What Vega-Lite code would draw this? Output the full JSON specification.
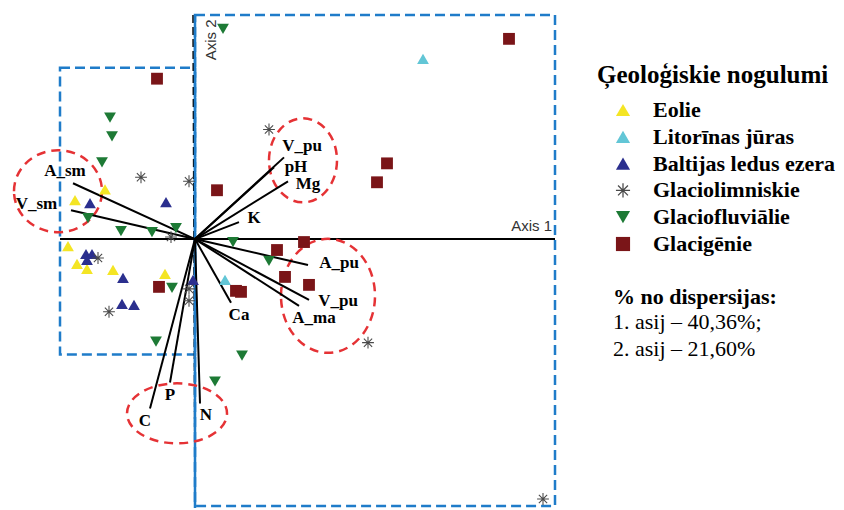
{
  "$schema": "https://vega.github.io/schema/vega-lite/v6.json",
  "width": 844,
  "height": 510,
  "autosize": {"type": "fit", "contains": "padding"},
  "padding": 0,
  "background": "white",
  "config": {"view": {"stroke": null}},
  "datasets": {
    "samples": [
      {"grupa": "Eolie", "a1": -0.90, "a2": 0.50},
      {"grupa": "Eolie", "a1": -1.20, "a2": 0.39},
      {"grupa": "Eolie", "a1": -1.27, "a2": -0.07},
      {"grupa": "Eolie", "a1": -1.18, "a2": -0.25},
      {"grupa": "Eolie", "a1": -1.08, "a2": -0.30},
      {"grupa": "Eolie", "a1": -0.82, "a2": -0.31},
      {"grupa": "Eolie", "a1": -0.30, "a2": -0.35},
      {"grupa": "Litorīnas jūras", "a1": 2.28, "a2": 1.81},
      {"grupa": "Litorīnas jūras", "a1": 0.30, "a2": -0.41},
      {"grupa": "Baltijas ledus ezera", "a1": -1.05, "a2": 0.36},
      {"grupa": "Baltijas ledus ezera", "a1": -0.29, "a2": 0.37},
      {"grupa": "Baltijas ledus ezera", "a1": -1.09, "a2": -0.15},
      {"grupa": "Baltijas ledus ezera", "a1": -1.03, "a2": -0.15},
      {"grupa": "Baltijas ledus ezera", "a1": -1.08, "a2": -0.21},
      {"grupa": "Baltijas ledus ezera", "a1": -0.72, "a2": -0.39},
      {"grupa": "Baltijas ledus ezera", "a1": -0.02, "a2": -0.41},
      {"grupa": "Baltijas ledus ezera", "a1": -0.73, "a2": -0.65},
      {"grupa": "Baltijas ledus ezera", "a1": -0.61, "a2": -0.66},
      {"grupa": "Glaciolimniskie", "a1": -0.54, "a2": 0.62},
      {"grupa": "Glaciolimniskie", "a1": -0.06, "a2": 0.58},
      {"grupa": "Glaciolimniskie", "a1": -0.24, "a2": 0.02},
      {"grupa": "Glaciolimniskie", "a1": -0.97, "a2": -0.19},
      {"grupa": "Glaciolimniskie", "a1": -0.06, "a2": -0.50},
      {"grupa": "Glaciolimniskie", "a1": -0.06, "a2": -0.62},
      {"grupa": "Glaciolimniskie", "a1": -0.86, "a2": -0.73},
      {"grupa": "Glaciolimniskie", "a1": 0.74, "a2": 1.10},
      {"grupa": "Glaciolimniskie", "a1": 1.73, "a2": -1.04},
      {"grupa": "Glaciolimniskie", "a1": 3.48, "a2": -2.61},
      {"grupa": "Glaciofluviālie", "a1": 0.28, "a2": 2.11},
      {"grupa": "Glaciofluviālie", "a1": -0.85, "a2": 1.22},
      {"grupa": "Glaciofluviālie", "a1": -0.83, "a2": 1.03},
      {"grupa": "Glaciofluviālie", "a1": -0.93, "a2": 0.77},
      {"grupa": "Glaciofluviālie", "a1": -1.07, "a2": 0.21},
      {"grupa": "Glaciofluviālie", "a1": -0.74, "a2": 0.08},
      {"grupa": "Glaciofluviālie", "a1": -0.43, "a2": 0.07},
      {"grupa": "Glaciofluviālie", "a1": -0.19, "a2": 0.11},
      {"grupa": "Glaciofluviālie", "a1": -0.23, "a2": -0.49},
      {"grupa": "Glaciofluviālie", "a1": -0.39, "a2": -1.03},
      {"grupa": "Glaciofluviālie", "a1": 0.38, "a2": -0.03},
      {"grupa": "Glaciofluviālie", "a1": 0.74, "a2": -0.22},
      {"grupa": "Glaciofluviālie", "a1": 0.47, "a2": -1.17},
      {"grupa": "Glaciofluviālie", "a1": 0.20, "a2": -1.43},
      {"grupa": "Glacigēnie", "a1": -0.38, "a2": 1.61},
      {"grupa": "Glacigēnie", "a1": 0.22, "a2": 0.49},
      {"grupa": "Glacigēnie", "a1": 1.92, "a2": 0.76},
      {"grupa": "Glacigēnie", "a1": 1.82, "a2": 0.57},
      {"grupa": "Glacigēnie", "a1": 3.14, "a2": 2.01},
      {"grupa": "Glacigēnie", "a1": 1.09, "a2": -0.03},
      {"grupa": "Glacigēnie", "a1": 0.82, "a2": -0.11},
      {"grupa": "Glacigēnie", "a1": 0.90, "a2": -0.38},
      {"grupa": "Glacigēnie", "a1": 1.14, "a2": -0.46},
      {"grupa": "Glacigēnie", "a1": 0.41, "a2": -0.52},
      {"grupa": "Glacigēnie", "a1": 0.46, "a2": -0.53},
      {"grupa": "Glacigēnie", "a1": -0.36, "a2": -0.48}
    ],
    "vectors": [
      {"mainigais": "A_sm", "o1": 0, "o2": 0, "a1": -1.22, "a2": 0.56, "l1": -1.30, "l2": 0.68},
      {"mainigais": "V_sm", "o1": 0, "o2": 0, "a1": -1.24, "a2": 0.29, "l1": -1.585, "l2": 0.35},
      {"mainigais": "V_pu", "o1": 0, "o2": 0, "a1": 0.89, "a2": 0.82, "l1": 1.07, "l2": 0.93},
      {"mainigais": "pH", "o1": 0, "o2": 0, "a1": 0.79, "a2": 0.72, "l1": 1.01, "l2": 0.72},
      {"mainigais": "Mg", "o1": 0, "o2": 0, "a1": 0.93, "a2": 0.58, "l1": 1.13, "l2": 0.55},
      {"mainigais": "K", "o1": 0, "o2": 0, "a1": 0.44, "a2": 0.17, "l1": 0.59, "l2": 0.21},
      {"mainigais": "A_pu", "o1": 0, "o2": 0, "a1": 1.13, "a2": -0.26, "l1": 1.44, "l2": -0.24},
      {"mainigais": "V_pu", "o1": 0, "o2": 0, "a1": 1.14, "a2": -0.61, "l1": 1.43, "l2": -0.62},
      {"mainigais": "A_ma", "o1": 0, "o2": 0, "a1": 1.04, "a2": -0.67, "l1": 1.19, "l2": -0.79},
      {"mainigais": "Ca", "o1": 0, "o2": 0, "a1": 0.36, "a2": -0.64, "l1": 0.44, "l2": -0.76},
      {"mainigais": "C", "o1": 0, "o2": 0, "a1": -0.45, "a2": -1.70, "l1": -0.50, "l2": -1.83},
      {"mainigais": "P", "o1": 0, "o2": 0, "a1": -0.25, "a2": -1.44, "l1": -0.25, "l2": -1.57},
      {"mainigais": "N", "o1": 0, "o2": 0, "a1": 0.05, "a2": -1.65, "l1": 0.11, "l2": -1.77}
    ],
    "axes": [
      {"ass": "1", "x0": -1.35, "x1": 3.60, "y0": 0, "y1": 0},
      {"ass": "2", "x0": 0, "x1": 0, "y0": 2.25, "y1": -2.70}
    ],
    "boxes": [
      {"apgabals": "pozitivais", "x0": 0, "x1": 3.60, "y0": 2.25, "y1": -2.68},
      {"apgabals": "negativais", "x0": -1.35, "x1": 0, "y0": 1.72, "y1": -1.16}
    ],
    "rings": [
      {"kopa": "smilts", "c1": -1.37, "c2": 0.48},
      {"kopa": "virskartas", "c1": 1.08, "c2": 0.79},
      {"kopa": "apakskartas", "c1": 1.33, "c2": -0.57},
      {"kopa": "biogeni", "c1": -0.18, "c2": -1.75}
    ]
  },
  "layer": [
    {
      "data": {"name": "boxes"},
      "mark": {"type": "rect", "filled": false, "stroke": "#1F7CC9", "strokeWidth": 2.5, "strokeDash": [10, 5]},
      "encoding": {
        "x": {"field": "x0", "type": "quantitative", "axis": null, "scale": {"domain": [-1.95, 6.49], "nice": false, "zero": false}},
        "x2": {"field": "x1"},
        "y": {"field": "y0", "type": "quantitative", "axis": null, "scale": {"domain": [-2.70, 2.40], "nice": false, "zero": false}},
        "y2": {"field": "y1"}
      }
    },
    {
      "data": {"name": "axes"},
      "transform": [{"filter": "datum.ass === '1'"}],
      "mark": {"type": "rule", "color": "#000000", "strokeWidth": 2},
      "encoding": {
        "x": {"field": "x0", "type": "quantitative", "axis": null, "scale": {"domain": [-1.95, 6.49], "nice": false, "zero": false}},
        "x2": {"field": "x1"},
        "y": {"field": "y0", "type": "quantitative", "axis": null, "scale": {"domain": [-2.70, 2.40], "nice": false, "zero": false}},
        "y2": {"field": "y1"}
      }
    },
    {
      "data": {"name": "axes"},
      "transform": [{"filter": "datum.ass === '2'"}],
      "mark": {"type": "rule", "color": "#000000", "strokeWidth": 1.5, "strokeDash": [8, 4], "xOffset": -2},
      "encoding": {
        "x": {"field": "x0", "type": "quantitative", "axis": null, "scale": {"domain": [-1.95, 6.49], "nice": false, "zero": false}},
        "x2": {"field": "x1"},
        "y": {"field": "y0", "type": "quantitative", "axis": null, "scale": {"domain": [-2.70, 2.40], "nice": false, "zero": false}},
        "y2": {"field": "y1"}
      }
    },
    {
      "data": {"name": "axes"},
      "transform": [{"filter": "datum.ass === '2'"}],
      "mark": {"type": "rule", "color": "#1F7CC9", "strokeWidth": 2.5},
      "encoding": {
        "x": {"field": "x0", "type": "quantitative", "axis": null, "scale": {"domain": [-1.95, 6.49], "nice": false, "zero": false}},
        "x2": {"field": "x1"},
        "y": {"field": "y0", "type": "quantitative", "axis": null, "scale": {"domain": [-2.70, 2.40], "nice": false, "zero": false}},
        "y2": {"field": "y1"}
      }
    },
    {
      "data": {"name": "rings"},
      "transform": [{"filter": "datum.kopa === 'smilts'"}],
      "mark": {"type": "point", "filled": false, "size": 4, "shape": "M-44,0A44,41,0,1,1,44,0A44,41,0,1,1,-44,0Z", "stroke": "#E53235", "strokeWidth": 2.5, "strokeDash": [9, 6], "opacity": 1},
      "encoding": {
        "x": {"field": "c1", "type": "quantitative", "axis": null, "scale": {"domain": [-1.95, 6.49], "nice": false, "zero": false}},
        "y": {"field": "c2", "type": "quantitative", "axis": null, "scale": {"domain": [-2.70, 2.40], "nice": false, "zero": false}}
      }
    },
    {
      "data": {"name": "rings"},
      "transform": [{"filter": "datum.kopa === 'virskartas'"}],
      "mark": {"type": "point", "filled": false, "size": 4, "shape": "M-34,0A34,42,0,1,1,34,0A34,42,0,1,1,-34,0Z", "stroke": "#E53235", "strokeWidth": 2.5, "strokeDash": [9, 6], "opacity": 1},
      "encoding": {
        "x": {"field": "c1", "type": "quantitative", "axis": null, "scale": {"domain": [-1.95, 6.49], "nice": false, "zero": false}},
        "y": {"field": "c2", "type": "quantitative", "axis": null, "scale": {"domain": [-2.70, 2.40], "nice": false, "zero": false}}
      }
    },
    {
      "data": {"name": "rings"},
      "transform": [{"filter": "datum.kopa === 'apakskartas'"}],
      "mark": {"type": "point", "filled": false, "size": 4, "shape": "M-47,0A47,57,0,1,1,47,0A47,57,0,1,1,-47,0Z", "stroke": "#E53235", "strokeWidth": 2.5, "strokeDash": [9, 6], "opacity": 1},
      "encoding": {
        "x": {"field": "c1", "type": "quantitative", "axis": null, "scale": {"domain": [-1.95, 6.49], "nice": false, "zero": false}},
        "y": {"field": "c2", "type": "quantitative", "axis": null, "scale": {"domain": [-2.70, 2.40], "nice": false, "zero": false}}
      }
    },
    {
      "data": {"name": "rings"},
      "transform": [{"filter": "datum.kopa === 'biogeni'"}],
      "mark": {"type": "point", "filled": false, "size": 4, "shape": "M-50,0A50,30,0,1,1,50,0A50,30,0,1,1,-50,0Z", "stroke": "#E53235", "strokeWidth": 2.5, "strokeDash": [9, 6], "opacity": 1},
      "encoding": {
        "x": {"field": "c1", "type": "quantitative", "axis": null, "scale": {"domain": [-1.95, 6.49], "nice": false, "zero": false}},
        "y": {"field": "c2", "type": "quantitative", "axis": null, "scale": {"domain": [-2.70, 2.40], "nice": false, "zero": false}}
      }
    },
    {
      "data": {"name": "vectors"},
      "mark": {"type": "rule", "color": "#000000", "strokeWidth": 2},
      "encoding": {
        "x": {"field": "o1", "type": "quantitative", "axis": null, "scale": {"domain": [-1.95, 6.49], "nice": false, "zero": false}},
        "y": {"field": "o2", "type": "quantitative", "axis": null, "scale": {"domain": [-2.70, 2.40], "nice": false, "zero": false}},
        "x2": {"field": "a1"},
        "y2": {"field": "a2"}
      }
    },
    {
      "data": {"name": "samples"},
      "mark": {"type": "point", "filled": true, "size": 140, "opacity": 1, "strokeWidth": 0},
      "encoding": {
        "x": {"field": "a1", "type": "quantitative", "axis": null, "scale": {"domain": [-1.95, 6.49], "nice": false, "zero": false}},
        "y": {"field": "a2", "type": "quantitative", "axis": null, "scale": {"domain": [-2.70, 2.40], "nice": false, "zero": false}},
        "color": {
          "field": "grupa",
          "type": "nominal",
          "title": "Ģeoloģiskie nogulumi",
          "scale": {
            "domain": ["Eolie", "Litorīnas jūras", "Baltijas ledus ezera", "Glaciolimniskie", "Glaciofluviālie", "Glacigēnie"],
            "range": ["#F4E524", "#62C6D6", "#2B2F8E", "#4A4A4A", "#1D7A35", "#7A1518"]
          },
          "legend": {
            "orient": "none",
            "legendX": 597,
            "legendY": 63,
            "padding": 0,
            "titleFont": "Liberation Serif",
            "titleFontSize": 25,
            "titleFontWeight": "bold",
            "titleColor": "#000000",
            "titlePadding": 11,
            "titleLimit": 400,
            "labelFont": "Liberation Serif",
            "labelFontSize": 22,
            "labelFontWeight": "bold",
            "labelColor": "#000000",
            "labelLimit": 400,
            "labelOffset": 19,
            "symbolSize": 200,
            "symbolOffset": 15,
            "symbolStrokeWidth": 0,
            "rowPadding": 4.8
          }
        },
        "shape": {
          "field": "grupa",
          "type": "nominal",
          "title": "Ģeoloģiskie nogulumi",
          "scale": {
            "domain": ["Eolie", "Litorīnas jūras", "Baltijas ledus ezera", "Glaciolimniskie", "Glaciofluviālie", "Glacigēnie"],
            "range": [
              "triangle-up",
              "triangle-up",
              "triangle-up",
              "M-1,-0.09H1V0.09H-1ZM-0.09,-1H0.09V1H-0.09ZM-0.636,-0.764L0.764,0.636L0.636,0.764L-0.764,-0.636ZM-0.764,0.636L0.636,-0.764L0.764,-0.636L-0.636,0.764Z",
              "triangle-down",
              "square"
            ]
          }
        }
      }
    },
    {
      "data": {"name": "vectors"},
      "mark": {"type": "text", "font": "Liberation Serif", "fontWeight": "bold", "fontSize": 17, "color": "#000000", "align": "center", "baseline": "middle"},
      "encoding": {
        "x": {"field": "l1", "type": "quantitative", "axis": null, "scale": {"domain": [-1.95, 6.49], "nice": false, "zero": false}},
        "y": {"field": "l2", "type": "quantitative", "axis": null, "scale": {"domain": [-2.70, 2.40], "nice": false, "zero": false}},
        "text": {"field": "mainigais"}
      }
    },
    {
      "data": {"values": [{"nosaukums": "Axis 1", "t1": 3.57, "t2": 0.08}]},
      "mark": {"type": "text", "font": "Liberation Sans", "fontSize": 15, "color": "#333333", "align": "right", "baseline": "alphabetic"},
      "encoding": {
        "x": {"field": "t1", "type": "quantitative", "axis": null, "scale": {"domain": [-1.95, 6.49], "nice": false, "zero": false}},
        "y": {"field": "t2", "type": "quantitative", "axis": null, "scale": {"domain": [-2.70, 2.40], "nice": false, "zero": false}},
        "text": {"field": "nosaukums"}
      }
    },
    {
      "data": {"values": [{"nosaukums": "Axis 2", "t1": 0.16, "t2": 2.00}]},
      "mark": {"type": "text", "font": "Liberation Sans", "fontSize": 15, "color": "#333333", "align": "center", "baseline": "middle", "angle": 270},
      "encoding": {
        "x": {"field": "t1", "type": "quantitative", "axis": null, "scale": {"domain": [-1.95, 6.49], "nice": false, "zero": false}},
        "y": {"field": "t2", "type": "quantitative", "axis": null, "scale": {"domain": [-2.70, 2.40], "nice": false, "zero": false}},
        "text": {"field": "nosaukums"}
      }
    },
    {
      "data": {"values": [{"teksts": "% no dispersijas:", "t1": 4.18, "t2": -0.65}]},
      "mark": {"type": "text", "font": "Liberation Serif", "fontSize": 22, "fontWeight": "bold", "color": "#000000", "align": "left", "baseline": "alphabetic"},
      "encoding": {
        "x": {"field": "t1", "type": "quantitative", "axis": null, "scale": {"domain": [-1.95, 6.49], "nice": false, "zero": false}},
        "y": {"field": "t2", "type": "quantitative", "axis": null, "scale": {"domain": [-2.70, 2.40], "nice": false, "zero": false}},
        "text": {"field": "teksts"}
      }
    },
    {
      "data": {"values": [
        {"teksts": "1. asij – 40,36%;", "t1": 4.18, "t2": -0.90},
        {"teksts": "2. asij – 21,60%", "t1": 4.18, "t2": -1.17}
      ]},
      "mark": {"type": "text", "font": "Liberation Serif", "fontSize": 22, "color": "#000000", "align": "left", "baseline": "alphabetic"},
      "encoding": {
        "x": {"field": "t1", "type": "quantitative", "axis": null, "scale": {"domain": [-1.95, 6.49], "nice": false, "zero": false}},
        "y": {"field": "t2", "type": "quantitative", "axis": null, "scale": {"domain": [-2.70, 2.40], "nice": false, "zero": false}},
        "text": {"field": "teksts"}
      }
    }
  ]
}
